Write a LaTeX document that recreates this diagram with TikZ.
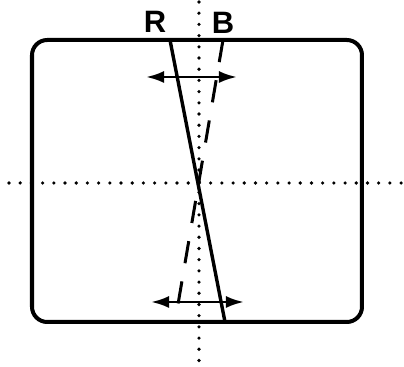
\documentclass[tikz,border=0pt]{standalone}
\usepackage{fontspec}
\setmainfont{Liberation Sans}
\usetikzlibrary{arrows.meta}
\tikzset{
  frame/.style={line width=0.1cm, rounded corners=0.38cm},
  dotline/.style={line width=0.09cm, line cap=round, dash pattern=on 0pt off 0.28cm},
  beamR/.style={line width=0.085cm},
  beamB/.style={line width=0.075cm, dash pattern=on 0.56cm off 0.46cm},
  shiftarrow/.style={line width=0.07cm, {Latex[length=0.45cm,width=0.3cm]}-{Latex[length=0.45cm,width=0.3cm]}},
  lbl/.style={font=\fontsize{22}{22}\selectfont\bfseries, inner sep=0pt}
}
\begin{document}
\begin{tikzpicture}[x=0.025cm, y=-0.025cm]
\useasboundingbox (0,0) rectangle (404,367);
% screen outline
\draw[frame] (32,40) rectangle (362,322);
% axes
\coordinate (vtop) at (199,2);
\coordinate (vbot) at (199,366);
\coordinate (hleft) at (9,183);
\coordinate (hright) at (403,183);
\draw[dotline] (vtop) -- (vbot);
\draw[dotline] (hleft) -- (hright);
% red and blue lines
\node[lbl] (R) at (155,22) {R};
\node[lbl] (B) at (223,23) {B};
\coordinate (rtop) at (170,40);
\coordinate (rbot) at (225,322);
\coordinate (btop) at (223,40);
\coordinate (bbot) at (175,322);
\draw[beamR] (rtop) -- (rbot);
\draw[beamB] (btop) -- (bbot);
% shift arrows
\coordinate (a1) at (146,77);
\coordinate (a2) at (237,77);
\coordinate (b1) at (151,302);
\coordinate (b2) at (244,302);
\draw[shiftarrow] (a1) -- (a2);
\draw[shiftarrow] (b1) -- (b2);
\end{tikzpicture}
\end{document}
